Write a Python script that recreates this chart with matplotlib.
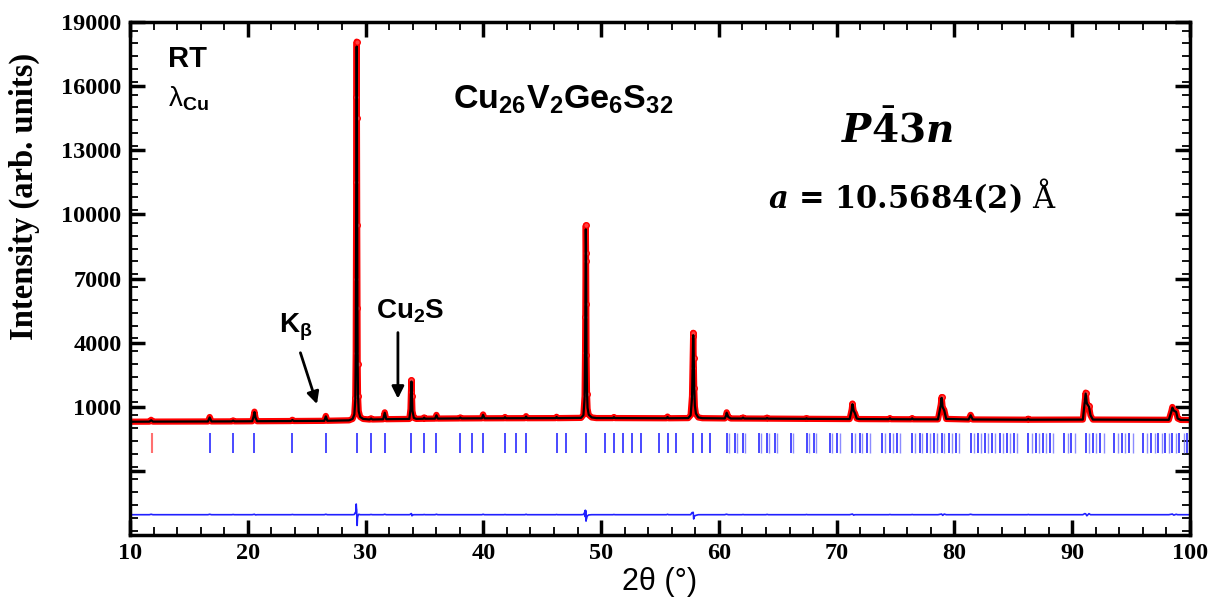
#!/usr/bin/env python3
"""
Rietveld refinement plot: Cu26V2Ge6S32 at room temperature (Cu radiation)
"""
import numpy as np
import matplotlib
matplotlib.use('Agg')
import matplotlib.pyplot as plt
from matplotlib.ticker import MultipleLocator, FuncFormatter

two_theta = [
    10.00, 11.65, 11.80, 11.95, 16.62, 16.77, 16.92, 18.64, 18.76, 18.88,
    20.38, 20.50, 20.57, 20.66, 20.80, 23.67, 23.79, 23.91, 26.50, 26.63,
    26.76, 28.60, 28.90, 29.05, 29.13, 29.17, 29.19, 29.21, 29.23, 29.25,
    29.27, 29.29, 29.31, 29.33, 29.36, 29.42, 29.55, 29.80, 30.35, 30.47,
    30.59, 31.50, 31.63, 31.76, 33.72, 33.82, 33.86, 33.90, 33.94, 33.98,
    34.10, 34.30, 34.90, 34.98, 35.06, 35.90, 36.02, 36.14, 37.95, 38.05,
    38.15, 39.88, 39.98, 40.10, 41.76, 41.84, 41.92, 43.54, 43.63, 43.72,
    46.14, 46.22, 46.30, 48.30, 48.50, 48.60, 48.64, 48.66, 48.68, 48.70,
    48.72, 48.74, 48.76, 48.80, 48.85, 48.95, 49.20, 49.60, 51.00, 51.09,
    51.18, 55.55, 55.64, 55.73, 57.40, 57.60, 57.72, 57.76, 57.80, 57.82,
    57.86, 57.90, 57.96, 58.05, 58.25, 58.60, 60.50, 60.62, 60.66, 60.80,
    61.00, 61.95, 62.05, 62.15, 64.00, 64.09, 64.20, 67.35, 67.44, 67.53,
    71.10, 71.28, 71.34, 71.44, 71.55, 71.70, 71.90, 74.42, 74.52, 74.62,
    76.32, 76.41, 76.50, 78.60, 78.84, 78.91, 79.00, 79.13, 79.30, 81.20,
    81.37, 81.55, 86.18, 86.27, 86.36, 90.90, 91.06, 91.14, 91.24, 91.42,
    91.55, 91.75, 98.20, 98.42, 98.50, 98.62, 98.82, 98.95, 99.20, 100.00,
]
y_obs = [
    300, 304, 390, 305, 312, 520, 313, 316, 360, 317,
    322, 560, 770, 480, 324, 332, 390, 333, 342, 570,
    345, 365, 430, 650, 1400, 3500, 7000, 11500, 15500, 18080,
    14500, 9500, 5600, 3000, 1500, 800, 520, 430, 402, 460,
    405, 415, 740, 418, 430, 900, 1700, 2230, 1500, 800,
    480, 433, 440, 500, 441, 445, 620, 447, 455, 500,
    455, 460, 640, 460, 463, 520, 463, 465, 560, 465,
    468, 530, 468, 480, 620, 1500, 3500, 5200, 7800, 9480,
    8200, 5800, 3400, 1600, 900, 620, 500, 470, 470, 520,
    470, 462, 540, 462, 470, 600, 1500, 2800, 4300, 4460,
    3300, 1900, 1000, 650, 500, 465, 455, 620, 740, 520,
    452, 450, 500, 450, 445, 490, 445, 435, 470, 435,
    425, 880, 1150, 800, 700, 450, 424, 418, 470, 418,
    413, 470, 413, 410, 1100, 1450, 950, 860, 430, 405,
    620, 405, 395, 440, 395, 400, 1250, 1660, 1100, 1050,
    600, 400, 390, 800, 990, 800, 780, 450, 385, 380,
]
y_calc = [
    300, 304, 370, 305, 312, 500, 313, 316, 350, 317,
    322, 550, 750, 490, 324, 332, 380, 333, 342, 550,
    345, 365, 430, 640, 1300, 3400, 6600, 11000, 15200, 17850,
    15000, 10000, 5800, 3100, 1550, 780, 520, 430, 402, 450,
    405, 415, 720, 418, 430, 880, 1650, 2180, 1550, 820,
    480, 433, 440, 490, 441, 445, 600, 447, 455, 495,
    455, 460, 620, 460, 463, 510, 463, 465, 540, 465,
    468, 520, 468, 480, 610, 1400, 3300, 5300, 7600, 9300,
    8500, 6000, 3600, 1700, 950, 630, 500, 470, 470, 510,
    470, 462, 520, 462, 470, 600, 1400, 2700, 4200, 4350,
    3500, 2000, 1050, 680, 500, 465, 455, 600, 720, 520,
    452, 450, 490, 450, 445, 475, 445, 435, 460, 435,
    425, 860, 1120, 820, 700, 450, 424, 418, 460, 418,
    413, 460, 413, 410, 1080, 1420, 980, 830, 430, 405,
    600, 405, 395, 430, 395, 400, 1200, 1620, 1150, 1000,
    600, 400, 390, 780, 960, 820, 760, 450, 385, 380,
]

# Bragg reflection positions (2theta)
bragg_red = [11.83]
bragg_blue = [
    16.77, 18.76, 20.57, 23.79, 26.65, 29.25, 30.47, 31.65, 33.90, 34.98,
    36.02, 38.05, 39.03, 39.98, 41.84, 42.74, 43.63, 46.22, 47.06, 48.70,
    50.30, 51.09, 51.87, 52.64, 53.41, 54.90, 55.64, 56.38, 57.82, 58.54,
    59.25, 60.66, 61.35, 62.05, 63.42, 64.09, 64.77, 66.11, 67.44, 68.09,
    69.41, 70.05, 71.34, 71.98, 72.61, 73.88, 74.52, 75.15, 76.41, 77.04,
    77.66, 78.29, 78.91, 79.52, 80.14, 81.37, 81.98, 82.60, 83.21, 83.83,
    84.44, 85.05, 86.27, 86.89, 87.50, 88.10, 89.31, 89.92, 91.14, 91.74,
    92.36, 93.58, 94.19, 94.81, 96.03, 96.65, 97.26, 97.88, 98.49, 99.10,
    99.72,
]
bragg_blue_ka2 = [
    60.83, 61.52, 62.22, 63.60, 64.27, 64.95, 66.30, 67.63, 68.28, 69.61,
    70.25, 71.55, 72.19, 72.82, 74.10, 74.74, 75.37, 76.64, 77.27, 77.89,
    78.53, 79.15, 79.76, 80.39, 81.62, 82.23, 82.86, 83.47, 84.09, 84.71,
    85.32, 86.55, 87.17, 87.78, 88.39, 89.60, 90.22, 91.44, 92.05, 92.67,
    93.90, 94.51, 95.13, 96.36, 96.99, 97.60, 98.23, 98.84, 99.46,
]

y_ticks = [-2000, 1000, 4000, 7000, 10000, 13000, 16000, 19000]


def gerar_grafico():
    plt.rcParams['mathtext.fontset'] = 'custom'
    plt.rcParams['mathtext.rm'] = 'Liberation Sans'
    plt.rcParams['mathtext.bf'] = 'Liberation Sans:bold'
    plt.rcParams['mathtext.it'] = 'Liberation Sans:italic'

    fig = plt.figure(figsize=(12.1, 6.01), dpi=100)
    ax = fig.add_axes([0.1074, 0.1098, 0.8761, 0.8536])

    tt = np.array(two_theta)
    obs = np.array(y_obs)
    calc = np.array(y_calc)

    # observed (red band + points on the strong peaks), calculated (black)
    ax.plot(tt, obs, color='red', lw=4.5, zorder=2)
    strong = obs > 1000
    ax.plot(tt[strong], obs[strong], 'o', ms=4, mfc='#ff4040', mec='red', zorder=2)
    ax.plot(tt, calc, color='black', lw=1.6, zorder=3)

    # Bragg positions
    ax.vlines(bragg_red, -1150, -250, color='#ff7070', lw=1.5)
    ax.vlines(bragg_blue, -1150, -250, color='#3a3aff', lw=1.3)
    ax.vlines(bragg_blue_ka2, -1150, -250, color='#7070ff', lw=1.0, alpha=0.8)

    # difference curve
    ax.plot(tt, obs - calc - 4050, color='#2020ff', lw=1.2)

    # Axes
    ax.set_xlim(10, 100)
    ax.set_ylim(-5000, 19000)
    ax.xaxis.set_major_locator(MultipleLocator(10))
    ax.xaxis.set_minor_locator(MultipleLocator(2))
    ax.set_yticks(y_ticks)
    ax.yaxis.set_minor_locator(MultipleLocator(600))
    ax.yaxis.set_major_formatter(FuncFormatter(lambda v, p: f'{v:.0f}' if v >= 1000 else ''))
    ax.tick_params(which='both', direction='in', top=True, right=True)
    ax.tick_params(which='major', length=11, width=2.5, pad=6)
    ax.tick_params(which='minor', length=6, width=1.3)
    for s in ax.spines.values():
        s.set_linewidth(2.5)
    for lab in ax.get_xticklabels() + ax.get_yticklabels():
        lab.set_family('Liberation Serif')
        lab.set_fontweight('bold')
        lab.set_fontsize(17.5)

    ax.set_ylabel('Intensity (arb. units)', family='Liberation Serif',
                  fontweight='bold', fontsize=23.5)
    ax.yaxis.set_label_coords(-0.085, 0.66)
    ax.set_xlabel('2θ (°)', family='Liberation Sans', fontsize=22, labelpad=2)

    # Annotations
    sans = 'Liberation Sans'
    ax.text(13.2, 17250, 'RT', family=sans, fontweight='bold', fontsize=21, va='center')
    ax.text(13.2, 15400, r'λ$_\mathbf{Cu}$', family=sans, fontsize=20, va='center')
    ax.text(46.8, 15350, r'Cu$_\mathbf{26}$V$_\mathbf{2}$Ge$_\mathbf{6}$S$_\mathbf{32}$',
            family=sans, fontweight='bold', fontsize=24.5, ha='center', va='center')
    ax.text(75.1, 13950, r'$\mathbfit{P}\bar{\mathbf{4}}\mathbf{3}\mathbfit{n}$',
            math_fontfamily='dejavuserif', fontsize=28, ha='center', va='center')
    ax.text(76.4, 10900, r'$\mathbfit{a}\mathbf{\,=\,10.5684(2)}\ \mathrm{\AA}$',
            math_fontfamily='dejavuserif', fontsize=22, ha='center', va='center')

    ax.text(24.1, 4700, r'K$_\mathbf{\beta}$', family=sans, fontweight='bold',
            fontsize=20, ha='center', va='center')
    ax.annotate('', xy=(25.95, 1000), xytext=(24.4, 3650),
                arrowprops=dict(arrowstyle='-|>', color='black', lw=2,
                                mutation_scale=18))
    ax.text(33.8, 5450, r'Cu$_\mathbf{2}$S', family=sans, fontweight='bold',
            fontsize=20, ha='center', va='center')
    ax.annotate('', xy=(32.75, 1250), xytext=(32.75, 4600),
                arrowprops=dict(arrowstyle='-|>', color='black', lw=2,
                                mutation_scale=18))

    fig.savefig('out.png', dpi=100)
    plt.close(fig)
    print('saved out.png')


if __name__ == '__main__':
    gerar_grafico()
